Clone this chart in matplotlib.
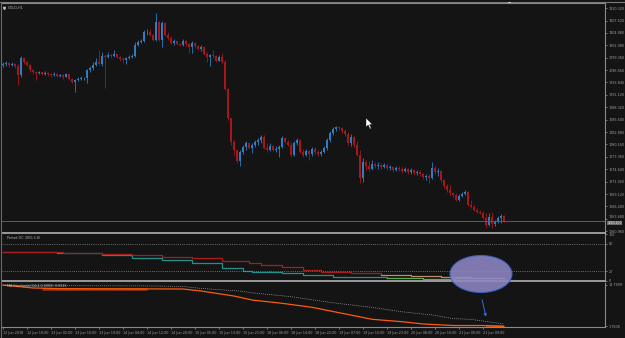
import matplotlib
matplotlib.use('Agg')
import matplotlib.pyplot as plt
import matplotlib.transforms as mtransforms
from matplotlib.patches import Ellipse, FancyArrowPatch, Polygon, Rectangle
from matplotlib.lines import Line2D

# ---------------- data (GOLD, H1) ----------------
first_open = 1297.7
closes = [1297.9, 1298.1, 1297.7, 1297.9, 1297.5, 1295.5, 1299.3, 1298.4, 1297.7, 1296.6,
          1296.2, 1295.9, 1296.2, 1295.7, 1295.9, 1295.7, 1295.5, 1295.7, 1295.3, 1295.5,
          1295.1, 1295.7, 1294.6, 1293.9, 1294.4, 1294.6, 1294.8, 1294.8, 1296.6, 1297.0,
          1297.7, 1298.4, 1297.9, 1299.7, 1299.5, 1299.9, 1299.7, 1300.1, 1299.5, 1299.0,
          1298.8, 1299.3, 1299.5, 1299.7, 1302.1, 1302.8, 1303.0, 1305.0, 1305.0, 1304.3,
          1303.2, 1307.2, 1303.2, 1307.0, 1304.3, 1303.7, 1302.6, 1303.0, 1302.4, 1302.1,
          1303.0, 1302.4, 1301.7, 1302.6, 1301.9, 1301.2, 1301.7, 1300.1, 1299.5, 1299.9,
          1299.7, 1298.6, 1299.5, 1298.4, 1292.4, 1286.0, 1280.7, 1278.9, 1276.5, 1278.5,
          1279.6, 1280.4, 1279.3, 1280.0, 1280.7, 1281.1, 1281.8, 1279.3, 1278.9, 1279.8,
          1278.9, 1279.1, 1279.6, 1281.6, 1280.7, 1280.0, 1277.8, 1280.4, 1281.1, 1278.5,
          1277.8, 1278.7, 1278.0, 1279.1, 1278.5, 1278.0, 1278.5, 1279.3, 1281.1, 1282.7,
          1283.5, 1284.0, 1283.8, 1283.1, 1282.4, 1280.4, 1281.8, 1280.0, 1277.8, 1272.7,
          1276.2, 1275.4, 1274.7, 1275.8, 1275.4, 1275.6, 1275.1, 1275.6, 1274.9, 1275.1,
          1274.5, 1274.9, 1274.7, 1274.2, 1274.7, 1274.0, 1274.5, 1273.8, 1274.0, 1273.6,
          1272.9, 1273.1, 1272.7, 1274.9, 1274.0, 1274.2, 1272.3, 1270.9, 1270.0, 1269.4,
          1268.9, 1267.8, 1268.7, 1269.2, 1269.6, 1266.7, 1266.3, 1265.6, 1265.2, 1265.0,
          1263.9, 1262.3, 1264.1, 1262.5, 1263.0, 1263.9, 1264.3, 1263.2]
highs = [1298.4, 1298.6, 1298.4, 1298.4, 1298.1, 1297.9, 1299.7, 1299.5, 1298.6, 1297.9,
         1296.8, 1296.4, 1296.4, 1296.2, 1296.4, 1296.2, 1295.9, 1296.2, 1295.9, 1295.7,
         1295.7, 1295.9, 1295.7, 1294.8, 1294.6, 1295.1, 1295.3, 1295.1, 1296.8, 1297.5,
         1298.4, 1299.3, 1301.0, 1300.6, 1300.1, 1300.6, 1300.1, 1301.0, 1300.1, 1299.7,
         1299.5, 1299.5, 1299.9, 1300.1, 1302.8, 1303.2, 1303.5, 1305.5, 1305.7, 1305.7,
         1304.6, 1309.2, 1307.4, 1307.4, 1307.2, 1305.0, 1304.1, 1303.5, 1303.0, 1302.6,
         1303.5, 1303.2, 1302.6, 1303.0, 1302.8, 1302.1, 1302.1, 1301.9, 1300.6, 1300.1,
         1301.0, 1299.9, 1299.9, 1300.4, 1298.8, 1292.6, 1286.0, 1281.1, 1278.5, 1278.9,
         1280.0, 1280.9, 1280.7, 1280.4, 1281.1, 1281.6, 1282.2, 1282.2, 1280.4, 1280.4,
         1280.0, 1279.8, 1280.0, 1282.0, 1281.8, 1281.1, 1280.7, 1280.9, 1281.6, 1281.3,
         1279.1, 1279.1, 1278.9, 1279.6, 1279.6, 1278.9, 1278.9, 1279.8, 1281.6, 1283.1,
         1284.0, 1284.2, 1284.2, 1284.0, 1283.5, 1282.9, 1282.4, 1282.0, 1280.9, 1278.9,
         1277.1, 1276.7, 1276.5, 1276.7, 1276.2, 1276.2, 1276.0, 1276.0, 1275.8, 1275.6,
         1275.4, 1275.4, 1275.4, 1275.1, 1275.1, 1274.9, 1274.9, 1274.7, 1274.5, 1274.5,
         1273.8, 1273.6, 1273.6, 1276.2, 1275.4, 1274.9, 1274.5, 1272.5, 1271.4, 1271.2,
         1269.6, 1269.4, 1269.2, 1269.6, 1270.0, 1269.8, 1267.8, 1266.7, 1266.1, 1265.6,
         1265.4, 1265.0, 1265.0, 1265.2, 1263.4, 1264.3, 1264.8, 1264.5]
lows = [1297.3, 1297.5, 1297.3, 1297.5, 1297.0, 1293.3, 1295.1, 1297.9, 1297.5, 1296.2,
        1295.7, 1294.4, 1295.7, 1295.5, 1295.5, 1295.3, 1295.1, 1295.3, 1295.1, 1295.1,
        1294.6, 1295.1, 1294.4, 1293.7, 1291.7, 1294.2, 1294.4, 1294.4, 1293.7, 1296.2,
        1296.6, 1297.5, 1297.7, 1297.5, 1292.6, 1299.3, 1299.3, 1299.5, 1299.3, 1298.6,
        1298.1, 1297.9, 1299.0, 1299.3, 1299.5, 1301.9, 1302.6, 1302.8, 1304.3, 1304.1,
        1303.0, 1303.0, 1303.0, 1301.7, 1304.1, 1303.2, 1302.4, 1302.1, 1302.1, 1301.9,
        1301.9, 1301.9, 1300.4, 1300.4, 1301.5, 1301.0, 1300.8, 1299.9, 1298.4, 1297.5,
        1299.3, 1298.4, 1298.6, 1298.2, 1292.2, 1285.5, 1280.0, 1277.8, 1276.0, 1275.4,
        1278.0, 1278.9, 1279.1, 1278.2, 1279.6, 1280.0, 1280.4, 1279.1, 1278.5, 1278.7,
        1278.7, 1278.5, 1277.4, 1279.3, 1280.4, 1279.8, 1277.4, 1277.6, 1280.0, 1278.2,
        1277.4, 1277.6, 1276.7, 1277.6, 1278.0, 1277.6, 1277.6, 1278.2, 1278.9, 1280.7,
        1282.2, 1283.1, 1283.3, 1282.7, 1282.0, 1280.0, 1279.8, 1279.6, 1277.6, 1271.6,
        1271.8, 1274.5, 1274.2, 1274.5, 1274.9, 1274.7, 1274.7, 1274.9, 1274.5, 1274.5,
        1274.0, 1274.2, 1274.2, 1273.8, 1274.0, 1273.6, 1273.6, 1273.4, 1273.4, 1273.1,
        1272.5, 1272.3, 1271.6, 1272.5, 1273.6, 1273.1, 1271.8, 1270.5, 1269.6, 1268.9,
        1268.5, 1267.6, 1267.6, 1268.5, 1268.9, 1266.5, 1266.1, 1265.4, 1265.0, 1264.7,
        1263.6, 1261.6, 1262.1, 1261.6, 1262.1, 1262.7, 1262.7, 1263.0]
opens = [first_open] + closes[:-1]

price_ticks = [1310.32, 1307.52, 1304.88, 1302.08, 1299.36, 1296.56, 1293.84, 1291.12,
               1288.32, 1285.60, 1282.88, 1280.16, 1277.36, 1274.64, 1271.92, 1269.12,
               1266.40, 1263.68, 1260.96]
time_labels = ["12 Jun 2018", "12 Jun 18:00", "13 Jun 02:00", "13 Jun 10:00", "13 Jun 19:00",
               "14 Jun 04:00", "14 Jun 12:00", "14 Jun 20:00", "15 Jun 05:00", "15 Jun 13:00",
               "15 Jun 21:00", "18 Jun 06:00", "18 Jun 14:00", "18 Jun 22:00", "19 Jun 07:00",
               "19 Jun 15:00", "19 Jun 23:00", "20 Jun 08:00", "20 Jun 16:00", "21 Jun 00:00",
               "21 Jun 09:00"]
time_label_bars = [0, 8, 16, 24, 32, 40, 48, 56, 64, 72, 80, 88, 96, 104, 112, 120, 128,
                   136, 144, 152, 160]

# Period OC indicator (0..100)
oc_levels = [80, 20]
oc_ticks = [100, 80, 20, 0]
oc_red_x = [0, 20, 33, 43, 53, 63, 73, 82, 86, 93, 100, 106, 116, 126]
oc_red_y = [61, 60, 57, 55, 51.6, 48, 43, 37.5, 33.8, 29, 23, 19.5, 16, 12.4]
oc_tan_x = [126, 136, 146, 156, 167]
oc_tan_y = [12.4, 10.3, 7.5, 6.2, 5.0]
oc_teal_x = [0, 18, 33, 43, 53, 63, 73, 80, 83, 93, 100, 110, 120, 128]
oc_teal_y = [61, 59, 54.6, 50, 44.5, 37.5, 28, 21.6, 18, 16, 12.4, 8.8, 7.5, 5.3]
oc_green_x = [128, 140, 151, 167]
oc_green_y = [5.3, 3.8, 5.0, 5.0]

# MA Stochastic indicator
st_ticks = [18.7999, 1.7608]
ma_x = [0, 10, 20, 60, 66, 77, 83, 93, 103, 113, 123, 133, 140, 150, 160, 167]
ma_y = [18.8, 17.57, 17.28, 17.16, 16.34, 14.28, 12.64, 11.29, 9.64, 7.18, 4.72, 3.73,
        2.8, 2.17, 2.17, 1.76]
sig_a_x = [13, 48]
sig_a_y = [17.0, 17.0]
sig_b_x = [161, 167]
sig_b_y = [1.95, 1.8]
dots_x = [0, 50, 60, 66, 79, 83, 96, 110, 123, 133, 143, 150, 156, 167]
dots_y = [18.6, 18.4, 18.2, 17.4, 16.3, 15.6, 14.0, 11.5, 9.6, 7.8, 6.5, 5.0, 4.7, 2.8]

# ---------------- layout ----------------
W, H = 625, 338
BG = '#141414'
FG = '#a0a0a0'
FS = 2.4
fig = plt.figure(figsize=(W / 100, H / 100), dpi=100, facecolor=BG)


def rect(x0, y0, x1, y1):
    return [x0 / W, 1 - y1 / H, (x1 - x0) / W, (y1 - y0) / H]


ax1 = fig.add_axes(rect(2, 3, 605, 233))
ax2 = fig.add_axes(rect(2, 234.2, 605, 280.8))
ax3 = fig.add_axes(rect(2, 283, 605, 327))
XL = (-0.33, 200.67)
for ax in (ax1, ax2, ax3):
    ax.set_facecolor(BG)
    ax.set_xlim(*XL)
    for s in ax.spines.values():
        s.set_color('#8a8a8a')
        s.set_linewidth(0.8)
    ax.spines['left'].set_visible(False)
    ax.yaxis.tick_right()
    ax.tick_params(axis='y', colors=FG, labelsize=FS, length=1.5, width=0.5, pad=1.2)
    ax.tick_params(axis='x', bottom=False, labelbottom=False)
ax1.spines['bottom'].set_color('#b0b0b0')
ax1.spines['bottom'].set_linewidth(1.2)
ax2.spines['top'].set_visible(False)
ax2.spines['bottom'].set_color('#b0b0b0')
ax2.spines['bottom'].set_linewidth(1.2)
ax3.spines['top'].set_visible(False)

# ---------------- candles ----------------
xs = list(range(len(closes)))
bull = '#2f7cc4'
bear = '#a8161a'
cols = [bull if c >= o else bear for o, c in zip(opens, closes)]
ax1.vlines(xs, [min(l, o, c) for l, o, c in zip(lows, opens, closes)],
           [max(h, o, c) for h, o, c in zip(highs, opens, closes)],
           colors=cols, linewidth=0.6)
ax1.bar(xs, [c - o for o, c in zip(opens, closes)], bottom=opens, width=0.62,
        color=cols, linewidth=0)
ax1.set_ylim(1260.53, 1311.43)
ax1.set_yticks(price_ticks)
ax1.set_yticklabels([f'{p:.3f}' for p in price_ticks])
last = closes[-1]
ax1.axhline(last, color='#5c5c5c', linewidth=0.7)
tr1 = mtransforms.blended_transform_factory(ax1.transAxes, ax1.transData)
ax1.annotate(f'{last:.3f}', xy=(1.004, last), xycoords=tr1, xytext=(0, -1.3),
             textcoords='offset points', fontsize=FS - 0.2, color='#e8e8e8',
             va='center', ha='left', annotation_clip=False,
             bbox=dict(boxstyle='square,pad=0.05', fc='#6a6a6a', ec='none'))
ax1.text(0.009, 0.985, 'GOLD,H1', transform=ax1.transAxes, fontsize=FS,
         color='#b8b8b8', va='top', ha='left')
ax1.plot([0.004], [0.978], marker='v', markersize=1.6, color='#b8b8b8',
         transform=ax1.transAxes, clip_on=False)
# nudge the 1263.680 tick label up a touch so it does not sit under the price box
for t in ax1.get_yticklabels():
    if t.get_text() == '1263.680':
        t.set_va('bottom')

# ---------------- Period OC ----------------
for lv in oc_levels:
    ax2.axhline(lv, color='#8c8c8c', linewidth=0.6, linestyle=(0, (1, 1.6)), zorder=5)
ax2.plot(oc_teal_x, oc_teal_y, drawstyle='steps-post', color='#22908c', lw=0.9)
ax2.plot(oc_green_x, oc_green_y, drawstyle='steps-post', color='#5fae4e', lw=0.9)
ax2.plot(oc_red_x, oc_red_y, drawstyle='steps-post', color='#a81c1c', lw=0.9)
ax2.plot(oc_tan_x, oc_tan_y, drawstyle='steps-post', color='#c58a6c', lw=0.9)
ax2.set_ylim(0, 100)
ax2.set_yticks(oc_ticks)
ax2.set_yticklabels([str(t) for t in oc_ticks])
ax2.text(0.009, 0.96, 'Period OC 30(0,3,0)', transform=ax2.transAxes, fontsize=FS,
         color='#b8b8b8', va='top', ha='left')

# ---------------- MA Stochastic ----------------
ax3.plot(sig_a_x, sig_a_y, color='#9a3a14', lw=1.8, solid_capstyle='butt')
ax3.plot(sig_b_x, sig_b_y, color='#9a3a14', lw=1.8, solid_capstyle='butt')
ax3.plot(ma_x, ma_y, color='#ff5a0a', lw=0.9)
ax3.plot(dots_x, dots_y, color='#cfcfcf', lw=0.5, linestyle=(0, (1, 1.8)))
ax3.set_ylim(1.555, 19.62)
ax3.set_yticks(st_ticks)
ax3.set_yticklabels([f'{t:.4f}' for t in st_ticks])
ax3.text(0.009, 0.985, 'MA Stochastic(14,4,0.0000) 9.8926', transform=ax3.transAxes,
         fontsize=FS, color='#b8b8b8', va='top', ha='left')

ax3.set_xticks(time_label_bars)
ax3.set_xticklabels(time_labels)
ax3.tick_params(axis='x', bottom=True, labelbottom=True, colors=FG, labelsize=FS,
                length=1.5, width=0.5, pad=1.5)
for lbl in ax3.get_xticklabels():
    lbl.set_ha('left')

# ---------------- chart objects ----------------
def fx(px):
    return px / W


def fy(py):
    return 1 - py / H


ell = Ellipse((fx(481), fy(274)), 62 / W, 37 / H, transform=fig.transFigure,
              facecolor='#8e87c4', edgecolor='#3a64c8', linewidth=0.8, alpha=0.88,
              zorder=10)
fig.add_artist(ell)
arr = FancyArrowPatch((fx(481.5), fy(297)), (fx(486.5), fy(319.5)),
                      transform=fig.transFigure, arrowstyle='-|>', mutation_scale=4,
                      color='#2f6fd8', linewidth=0.7, zorder=11)
fig.add_artist(arr)

cur = [(366, 118), (366, 127), (368.2, 125), (370, 129), (371.3, 128.4), (369.6, 124.5),
       (372.4, 124.5)]
fig.add_artist(Polygon([(fx(a), fy(b)) for a, b in cur], closed=True,
                       transform=fig.transFigure, facecolor='white',
                       edgecolor='#111111', linewidth=0.3, zorder=12))
fig.add_artist(Rectangle((fx(507.5), fy(3.2)), 3 / W, 1.6 / H, transform=fig.transFigure,
                         facecolor='#c8c8c8', edgecolor='none', zorder=12))

# outer border
fig.add_artist(Line2D([0, 1], [fy(1.5), fy(1.5)], transform=fig.transFigure,
                      color='#7a7a7a', linewidth=0.8))
fig.add_artist(Line2D([fx(1.2), fx(1.2)], [fy(1.5), fy(338)], transform=fig.transFigure,
                      color='#6a6a6a', linewidth=0.8))

fig.savefig('out.png', dpi=100, facecolor=BG)
